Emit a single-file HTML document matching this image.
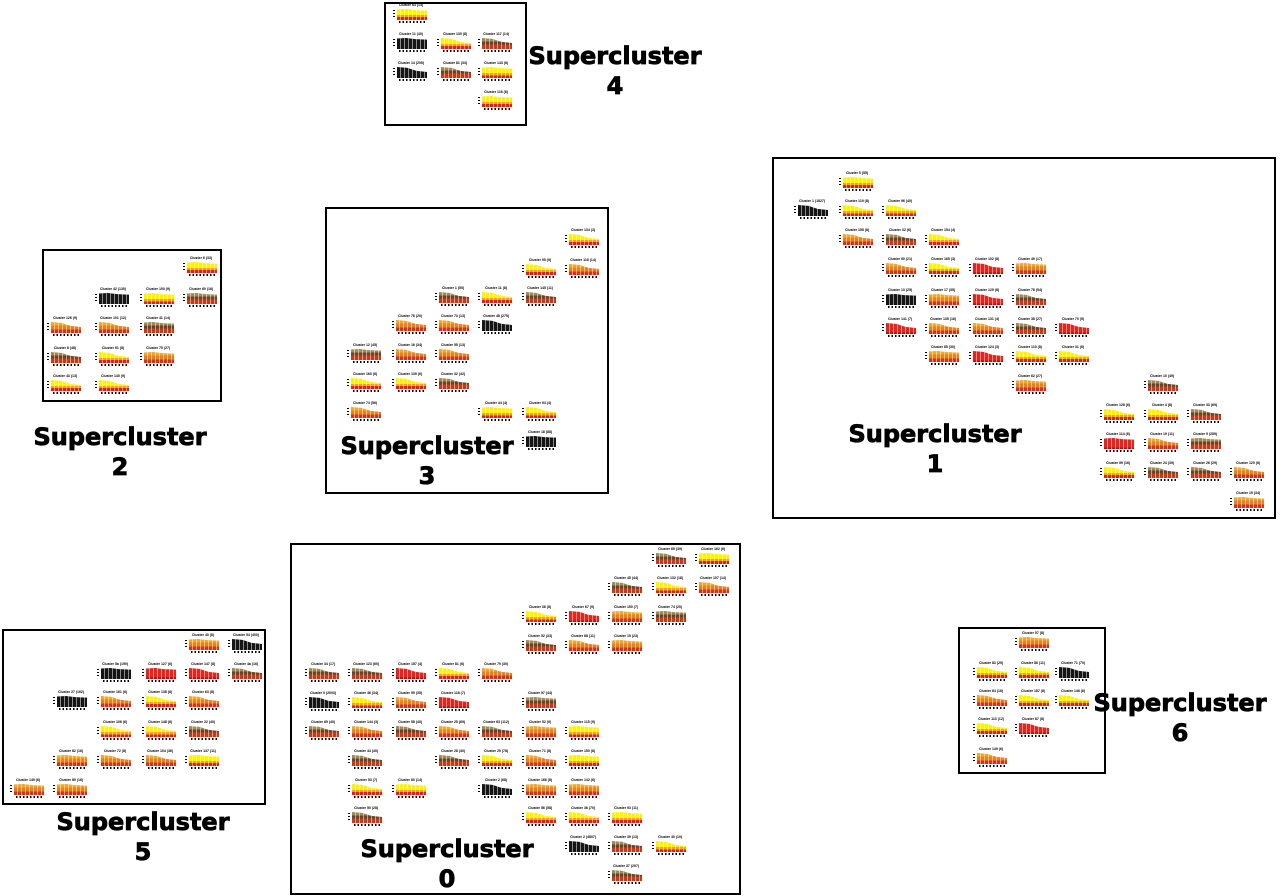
<!DOCTYPE html>
<html><head><meta charset="utf-8"><style>
body{margin:0;width:1280px;height:896px;background:#fff;position:relative;overflow:hidden;font-family:"Liberation Sans",sans-serif}
.bx{position:absolute;border:2px solid #000;box-sizing:border-box}
.lb{position:absolute;width:240px;text-align:center;font:bold 24px/30px "DejaVu Sans","Liberation Sans",sans-serif;color:#000;-webkit-text-stroke:0.8px #000}
.c{position:absolute;width:36px;height:21px}
.c i{position:absolute;top:-1px;left:0;width:36px;text-align:center;font:bold 3.5px/4px "Liberation Sans",sans-serif;font-style:normal;white-space:nowrap;color:#000}
.c b{position:absolute;top:5px;left:4px;width:30px;height:11px;background:linear-gradient(#ffe800 0 40%,#f5a21b 40% 70%,#e32018 70%)}
.c b:after{content:"";position:absolute;inset:0;background:repeating-linear-gradient(90deg,transparent 0 3px,rgba(255,255,255,.5) 3px 4px)}
.c:before{content:"";position:absolute;left:0;top:6px;width:2px;height:9px;background:repeating-linear-gradient(#000 0 1px,transparent 1px 3px)}
.c:after{content:"";position:absolute;left:6px;top:17px;width:28px;height:2px;background:repeating-linear-gradient(90deg,#000 0 1.5px,transparent 1.5px 3.5px)}
.d b{clip-path:polygon(0 0,35% 8%,65% 35%,100% 45%,100% 100%,0 100%)}
.f b{clip-path:polygon(0 5%,30% 0,60% 10%,100% 15%,100% 100%,0 100%)}
.k b{background:#151515}
.r b{background:linear-gradient(#e8231b 0 85%,#b01010 85%)}
.o b{background:linear-gradient(#f4a626 0 30%,#e8801c 30% 70%,#d8301a 70%)}
.m b{background:linear-gradient(#a08a55 0 30%,#6a4420 30% 60%,#c8391c 60%)}
.y b{background:linear-gradient(#fff200 0 55%,#f5a21b 55% 75%,#e32018 75%)}
</style></head><body>

<div class="bx" style="left:384px;top:2px;width:143px;height:124px"></div>
<div class="bx" style="left:772px;top:157px;width:504px;height:362px"></div>
<div class="bx" style="left:42px;top:249px;width:180px;height:153px"></div>
<div class="bx" style="left:325px;top:207px;width:284px;height:287px"></div>
<div class="bx" style="left:290px;top:543px;width:451px;height:352px"></div>
<div class="bx" style="left:2px;top:629px;width:264px;height:176px"></div>
<div class="bx" style="left:958px;top:627px;width:148px;height:147px"></div>

<div class="lb" style="left:495px;top:41px">Supercluster<br>4</div>
<div class="lb" style="left:815px;top:419px">Supercluster<br>1</div>
<div class="lb" style="left:0px;top:422px">Supercluster<br>2</div>
<div class="lb" style="left:307px;top:431px">Supercluster<br>3</div>
<div class="lb" style="left:327px;top:834px">Supercluster<br>0</div>
<div class="lb" style="left:23px;top:807px">Supercluster<br>5</div>
<div class="lb" style="left:1060px;top:688px">Supercluster<br>6</div>

<!-- SC4 -->
<div class="c y f" style="left:393px;top:4px"><i>Cluster 64 (14)</i><b></b></div>
<div class="c k f" style="left:393px;top:33px"><i>Cluster 11 (40)</i><b></b></div>
<div class="c y d" style="left:437px;top:33px"><i>Cluster 130 (8)</i><b></b></div>
<div class="c m d" style="left:478px;top:33px"><i>Cluster 117 (14)</i><b></b></div>
<div class="c k d" style="left:393px;top:62px"><i>Cluster 14 (205)</i><b></b></div>
<div class="c m d" style="left:437px;top:62px"><i>Cluster 81 (33)</i><b></b></div>
<div class="c y f" style="left:478px;top:62px"><i>Cluster 143 (6)</i><b></b></div>
<div class="c y f" style="left:478px;top:91px"><i>Cluster 116 (6)</i><b></b></div>

<!-- SC2 -->
<div class="c y f" style="left:183px;top:257px"><i>Cluster 6 (33)</i><b></b></div>
<div class="c k f" style="left:95px;top:288px"><i>Cluster 42 (130)</i><b></b></div>
<div class="c y f" style="left:140px;top:288px"><i>Cluster 100 (9)</i><b></b></div>
<div class="c m f" style="left:183px;top:288px"><i>Cluster 60 (16)</i><b></b></div>
<div class="c o d" style="left:47px;top:317px"><i>Cluster 126 (9)</i><b></b></div>
<div class="c o d" style="left:95px;top:317px"><i>Cluster 101 (12)</i><b></b></div>
<div class="c m f" style="left:140px;top:317px"><i>Cluster 41 (14)</i><b></b></div>
<div class="c m d" style="left:47px;top:347px"><i>Cluster 8 (48)</i><b></b></div>
<div class="c y d" style="left:95px;top:347px"><i>Cluster 91 (8)</i><b></b></div>
<div class="c o f" style="left:140px;top:347px"><i>Cluster 75 (27)</i><b></b></div>
<div class="c y d" style="left:47px;top:375px"><i>Cluster 43 (13)</i><b></b></div>
<div class="c y d" style="left:95px;top:375px"><i>Cluster 140 (9)</i><b></b></div>

<!-- SC3 -->
<div class="c y d" style="left:565px;top:229px"><i>Cluster 134 (3)</i><b></b></div>
<div class="c y d" style="left:522px;top:259px"><i>Cluster 95 (9)</i><b></b></div>
<div class="c o d" style="left:565px;top:259px"><i>Cluster 118 (14)</i><b></b></div>
<div class="c m d" style="left:435px;top:287px"><i>Cluster 1 (50)</i><b></b></div>
<div class="c y d" style="left:478px;top:287px"><i>Cluster 11 (8)</i><b></b></div>
<div class="c m d" style="left:522px;top:287px"><i>Cluster 145 (11)</i><b></b></div>
<div class="c o d" style="left:392px;top:315px"><i>Cluster 76 (20)</i><b></b></div>
<div class="c o d" style="left:435px;top:315px"><i>Cluster 73 (13)</i><b></b></div>
<div class="c k d" style="left:478px;top:315px"><i>Cluster 48 (275)</i><b></b></div>
<div class="c m f" style="left:347px;top:344px"><i>Cluster 12 (45)</i><b></b></div>
<div class="c o d" style="left:392px;top:344px"><i>Cluster 16 (34)</i><b></b></div>
<div class="c o d" style="left:435px;top:344px"><i>Cluster 55 (13)</i><b></b></div>
<div class="c y d" style="left:347px;top:373px"><i>Cluster 160 (6)</i><b></b></div>
<div class="c y d" style="left:392px;top:373px"><i>Cluster 139 (6)</i><b></b></div>
<div class="c m d" style="left:435px;top:373px"><i>Cluster 32 (42)</i><b></b></div>
<div class="c o d" style="left:347px;top:402px"><i>Cluster 74 (56)</i><b></b></div>
<div class="c y f" style="left:478px;top:402px"><i>Cluster 44 (4)</i><b></b></div>
<div class="c y d" style="left:522px;top:402px"><i>Cluster 94 (4)</i><b></b></div>
<div class="c k f" style="left:522px;top:431px"><i>Cluster 18 (88)</i><b></b></div>

<!-- SC1 -->
<div class="c y f" style="left:839px;top:172px"><i>Cluster 5 (55)</i><b></b></div>
<div class="c k d" style="left:794px;top:200px"><i>Cluster 1 (1827)</i><b></b></div>
<div class="c y d" style="left:839px;top:200px"><i>Cluster 119 (8)</i><b></b></div>
<div class="c y d" style="left:882px;top:200px"><i>Cluster 96 (40)</i><b></b></div>
<div class="c o d" style="left:839px;top:229px"><i>Cluster 155 (8)</i><b></b></div>
<div class="c m d" style="left:882px;top:229px"><i>Cluster 32 (6)</i><b></b></div>
<div class="c y d" style="left:925px;top:229px"><i>Cluster 154 (4)</i><b></b></div>
<div class="c o d" style="left:882px;top:258px"><i>Cluster 90 (21)</i><b></b></div>
<div class="c y d" style="left:925px;top:258px"><i>Cluster 165 (3)</i><b></b></div>
<div class="c r d" style="left:969px;top:258px"><i>Cluster 102 (8)</i><b></b></div>
<div class="c o f" style="left:1012px;top:258px"><i>Cluster 49 (17)</i><b></b></div>
<div class="c k f" style="left:882px;top:289px"><i>Cluster 13 (25)</i><b></b></div>
<div class="c o f" style="left:925px;top:289px"><i>Cluster 17 (35)</i><b></b></div>
<div class="c r d" style="left:969px;top:289px"><i>Cluster 129 (8)</i><b></b></div>
<div class="c m d" style="left:1012px;top:289px"><i>Cluster 78 (54)</i><b></b></div>
<div class="c r d" style="left:882px;top:318px"><i>Cluster 141 (7)</i><b></b></div>
<div class="c o d" style="left:925px;top:318px"><i>Cluster 135 (16)</i><b></b></div>
<div class="c o d" style="left:969px;top:318px"><i>Cluster 131 (4)</i><b></b></div>
<div class="c m d" style="left:1012px;top:318px"><i>Cluster 38 (27)</i><b></b></div>
<div class="c r d" style="left:1055px;top:318px"><i>Cluster 70 (5)</i><b></b></div>
<div class="c o f" style="left:925px;top:346px"><i>Cluster 85 (30)</i><b></b></div>
<div class="c r d" style="left:969px;top:346px"><i>Cluster 124 (3)</i><b></b></div>
<div class="c y d" style="left:1012px;top:346px"><i>Cluster 110 (8)</i><b></b></div>
<div class="c y d" style="left:1055px;top:346px"><i>Cluster 31 (6)</i><b></b></div>
<div class="c o f" style="left:1012px;top:375px"><i>Cluster 62 (27)</i><b></b></div>
<div class="c m d" style="left:1144px;top:375px"><i>Cluster 10 (49)</i><b></b></div>
<div class="c y d" style="left:1100px;top:404px"><i>Cluster 128 (6)</i><b></b></div>
<div class="c y d" style="left:1144px;top:404px"><i>Cluster 4 (8)</i><b></b></div>
<div class="c m d" style="left:1187px;top:404px"><i>Cluster 33 (69)</i><b></b></div>
<div class="c r f" style="left:1100px;top:433px"><i>Cluster 114 (6)</i><b></b></div>
<div class="c o d" style="left:1144px;top:433px"><i>Cluster 19 (11)</i><b></b></div>
<div class="c m f" style="left:1187px;top:433px"><i>Cluster 9 (289)</i><b></b></div>
<div class="c y d" style="left:1100px;top:462px"><i>Cluster 99 (16)</i><b></b></div>
<div class="c m d" style="left:1144px;top:462px"><i>Cluster 24 (39)</i><b></b></div>
<div class="c m d" style="left:1187px;top:462px"><i>Cluster 26 (29)</i><b></b></div>
<div class="c o d" style="left:1230px;top:462px"><i>Cluster 120 (6)</i><b></b></div>
<div class="c o f" style="left:1230px;top:492px"><i>Cluster 15 (34)</i><b></b></div>

<!-- SC0 -->
<div class="c m d" style="left:652px;top:548px"><i>Cluster 65 (39)</i><b></b></div>
<div class="c y f" style="left:695px;top:548px"><i>Cluster 162 (6)</i><b></b></div>
<div class="c m d" style="left:608px;top:577px"><i>Cluster 45 (44)</i><b></b></div>
<div class="c y d" style="left:652px;top:577px"><i>Cluster 132 (18)</i><b></b></div>
<div class="c o d" style="left:695px;top:577px"><i>Cluster 107 (14)</i><b></b></div>
<div class="c y d" style="left:522px;top:606px"><i>Cluster 36 (8)</i><b></b></div>
<div class="c r d" style="left:565px;top:606px"><i>Cluster 67 (9)</i><b></b></div>
<div class="c o f" style="left:608px;top:606px"><i>Cluster 150 (7)</i><b></b></div>
<div class="c m f" style="left:652px;top:606px"><i>Cluster 74 (20)</i><b></b></div>
<div class="c m d" style="left:522px;top:635px"><i>Cluster 52 (33)</i><b></b></div>
<div class="c o d" style="left:565px;top:635px"><i>Cluster 88 (11)</i><b></b></div>
<div class="c o f" style="left:608px;top:635px"><i>Cluster 15 (23)</i><b></b></div>
<div class="c m d" style="left:305px;top:663px"><i>Cluster 34 (17)</i><b></b></div>
<div class="c m d" style="left:348px;top:663px"><i>Cluster 123 (60)</i><b></b></div>
<div class="c r d" style="left:392px;top:663px"><i>Cluster 157 (4)</i><b></b></div>
<div class="c y d" style="left:435px;top:663px"><i>Cluster 81 (6)</i><b></b></div>
<div class="c o d" style="left:478px;top:663px"><i>Cluster 79 (30)</i><b></b></div>
<div class="c k d" style="left:305px;top:692px"><i>Cluster 0 (2003)</i><b></b></div>
<div class="c y d" style="left:348px;top:692px"><i>Cluster 46 (34)</i><b></b></div>
<div class="c o d" style="left:392px;top:692px"><i>Cluster 59 (35)</i><b></b></div>
<div class="c r d" style="left:435px;top:692px"><i>Cluster 118 (7)</i><b></b></div>
<div class="c m f" style="left:522px;top:692px"><i>Cluster 97 (44)</i><b></b></div>
<div class="c m d" style="left:305px;top:721px"><i>Cluster 69 (40)</i><b></b></div>
<div class="c o d" style="left:348px;top:721px"><i>Cluster 144 (3)</i><b></b></div>
<div class="c m d" style="left:392px;top:721px"><i>Cluster 58 (40)</i><b></b></div>
<div class="c o d" style="left:435px;top:721px"><i>Cluster 25 (69)</i><b></b></div>
<div class="c m d" style="left:478px;top:721px"><i>Cluster 63 (112)</i><b></b></div>
<div class="c o f" style="left:522px;top:721px"><i>Cluster 52 (9)</i><b></b></div>
<div class="c y f" style="left:565px;top:721px"><i>Cluster 115 (9)</i><b></b></div>
<div class="c m d" style="left:348px;top:750px"><i>Cluster 44 (40)</i><b></b></div>
<div class="c m d" style="left:435px;top:750px"><i>Cluster 28 (40)</i><b></b></div>
<div class="c y d" style="left:478px;top:750px"><i>Cluster 29 (78)</i><b></b></div>
<div class="c o d" style="left:522px;top:750px"><i>Cluster 71 (8)</i><b></b></div>
<div class="c y f" style="left:565px;top:750px"><i>Cluster 150 (8)</i><b></b></div>
<div class="c y d" style="left:348px;top:779px"><i>Cluster 53 (7)</i><b></b></div>
<div class="c y f" style="left:392px;top:779px"><i>Cluster 80 (14)</i><b></b></div>
<div class="c k d" style="left:478px;top:779px"><i>Cluster 2 (68)</i><b></b></div>
<div class="c o f" style="left:522px;top:779px"><i>Cluster 166 (8)</i><b></b></div>
<div class="c o f" style="left:565px;top:779px"><i>Cluster 142 (6)</i><b></b></div>
<div class="c m d" style="left:348px;top:807px"><i>Cluster 50 (28)</i><b></b></div>
<div class="c y d" style="left:522px;top:807px"><i>Cluster 56 (58)</i><b></b></div>
<div class="c y d" style="left:565px;top:807px"><i>Cluster 36 (70)</i><b></b></div>
<div class="c y f" style="left:608px;top:807px"><i>Cluster 93 (11)</i><b></b></div>
<div class="c k d" style="left:565px;top:836px"><i>Cluster 2 (4807)</i><b></b></div>
<div class="c m d" style="left:608px;top:836px"><i>Cluster 39 (13)</i><b></b></div>
<div class="c y d" style="left:652px;top:836px"><i>Cluster 40 (10)</i><b></b></div>
<div class="c m d" style="left:608px;top:865px"><i>Cluster 37 (207)</i><b></b></div>

<!-- SC5 -->
<div class="c o f" style="left:185px;top:634px"><i>Cluster 40 (8)</i><b></b></div>
<div class="c k d" style="left:228px;top:634px"><i>Cluster 54 (400)</i><b></b></div>
<div class="c k f" style="left:97px;top:663px"><i>Cluster 5a (190)</i><b></b></div>
<div class="c r f" style="left:142px;top:663px"><i>Cluster 127 (6)</i><b></b></div>
<div class="c r d" style="left:185px;top:663px"><i>Cluster 147 (8)</i><b></b></div>
<div class="c m d" style="left:228px;top:663px"><i>Cluster 4a (16)</i><b></b></div>
<div class="c k f" style="left:53px;top:691px"><i>Cluster 27 (162)</i><b></b></div>
<div class="c o d" style="left:97px;top:691px"><i>Cluster 161 (6)</i><b></b></div>
<div class="c y d" style="left:142px;top:691px"><i>Cluster 138 (6)</i><b></b></div>
<div class="c o d" style="left:185px;top:691px"><i>Cluster 63 (8)</i><b></b></div>
<div class="c y d" style="left:97px;top:721px"><i>Cluster 106 (6)</i><b></b></div>
<div class="c y d" style="left:142px;top:721px"><i>Cluster 148 (6)</i><b></b></div>
<div class="c m d" style="left:185px;top:721px"><i>Cluster 22 (40)</i><b></b></div>
<div class="c o f" style="left:53px;top:750px"><i>Cluster 82 (16)</i><b></b></div>
<div class="c o d" style="left:97px;top:750px"><i>Cluster 72 (8)</i><b></b></div>
<div class="c o d" style="left:142px;top:750px"><i>Cluster 104 (36)</i><b></b></div>
<div class="c y f" style="left:185px;top:750px"><i>Cluster 137 (11)</i><b></b></div>
<div class="c o f" style="left:10px;top:779px"><i>Cluster 149 (6)</i><b></b></div>
<div class="c o f" style="left:53px;top:779px"><i>Cluster 89 (16)</i><b></b></div>

<!-- SC6 -->
<div class="c o f" style="left:1015px;top:632px"><i>Cluster 57 (8)</i><b></b></div>
<div class="c y d" style="left:973px;top:662px"><i>Cluster 83 (25)</i><b></b></div>
<div class="c y d" style="left:1015px;top:662px"><i>Cluster 86 (11)</i><b></b></div>
<div class="c k d" style="left:1055px;top:662px"><i>Cluster 71 (70)</i><b></b></div>
<div class="c o d" style="left:973px;top:690px"><i>Cluster 84 (16)</i><b></b></div>
<div class="c y d" style="left:1015px;top:690px"><i>Cluster 187 (8)</i><b></b></div>
<div class="c y d" style="left:1055px;top:690px"><i>Cluster 146 (6)</i><b></b></div>
<div class="c y d" style="left:973px;top:718px"><i>Cluster 113 (12)</i><b></b></div>
<div class="c r d" style="left:1015px;top:718px"><i>Cluster 87 (8)</i><b></b></div>
<div class="c o d" style="left:973px;top:748px"><i>Cluster 149 (6)</i><b></b></div>

</body></html>
